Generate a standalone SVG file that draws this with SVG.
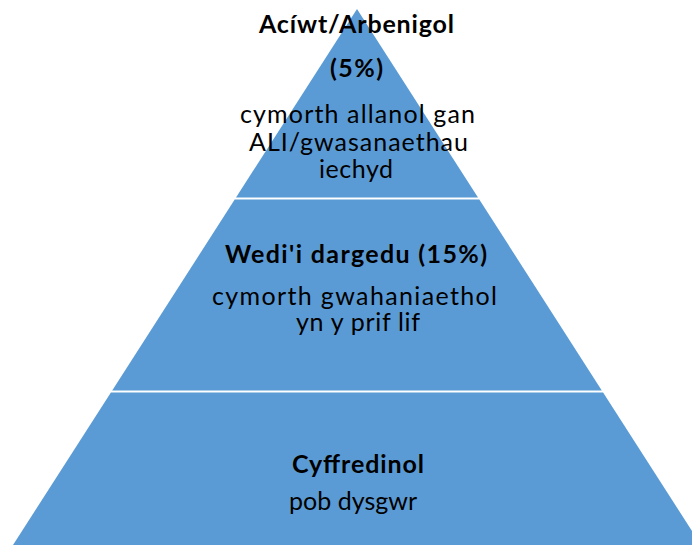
<svg xmlns="http://www.w3.org/2000/svg" width="692" height="545" viewBox="0 0 692 545">
  <style>
    .tier { fill: #5B9BD5; stroke: none; }
    .t { font-family: Lato, "Liberation Sans", sans-serif; font-size: 25px; fill: #000; text-anchor: middle; }
    .b { font-weight: bold; }
  </style>
  <rect width="692" height="545" fill="#ffffff"/>
  <g id="connectors"></g>
  <g id="tier-top">
    <polygon class="tier" points="357,9 478,197.5 236,197.5"/>
    <text class="t b" x="356.5" y="33" textLength="195" lengthAdjust="spacing">Acíwt/Arbenigol</text>
    <text class="t b" x="356.5" y="77" textLength="53" lengthAdjust="spacing">(5%)</text>
    <text class="t" x="357.5" y="123" textLength="235" lengthAdjust="spacing">cymorth allanol gan</text>
    <text class="t" x="358.5" y="151" textLength="219" lengthAdjust="spacing">ALI/gwasanaethau</text>
    <text class="t" x="356" y="178" textLength="74" lengthAdjust="spacing">iechyd</text>
  </g>
  <g id="tier-middle">
    <polygon class="tier" points="234.7,199.5 479.3,199.5 601.8,390.5 112.2,390.5"/>
    <text class="t b" x="356" y="263" textLength="262" lengthAdjust="spacing">Wedi'i dargedu (15%)</text>
    <text class="t" x="354.5" y="305" textLength="285" lengthAdjust="spacing">cymorth gwahaniaethol</text>
    <text class="t" x="358" y="331" textLength="124" lengthAdjust="spacing">yn y prif lif</text>
  </g>
  <g id="tier-bottom">
    <polygon class="tier" points="110.9,392.5 603.1,392.5 701,545 13,545"/>
    <text class="t b" x="358" y="473" textLength="132" lengthAdjust="spacing">Cyffredinol</text>
    <text class="t" x="353" y="510" textLength="128" lengthAdjust="spacing">pob dysgwr</text>
  </g>
</svg>
